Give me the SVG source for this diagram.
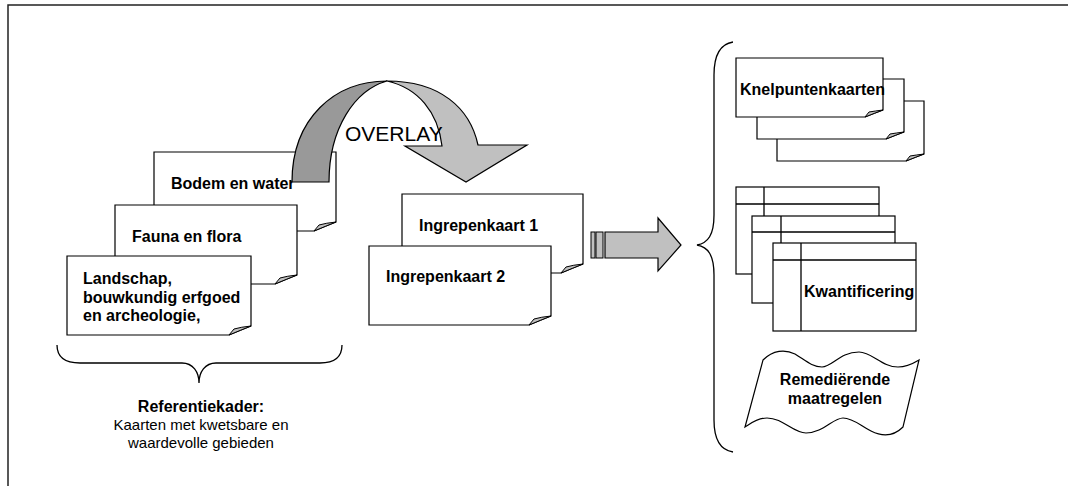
<svg xmlns="http://www.w3.org/2000/svg" width="1068" height="486" viewBox="0 0 1068 486">
<style>
.pg{fill:#fff;stroke:#000;stroke-width:1.2}
.fold{fill:#c0c0c0;stroke:#000;stroke-width:1}
.ln{fill:none;stroke:#000;stroke-width:1.3}
.b{font-family:"Liberation Sans",Arial,sans-serif;font-weight:bold;font-size:16px;fill:#000}
.r{font-family:"Liberation Sans",Arial,sans-serif;font-size:15px;fill:#000}
</style>
<rect width="1068" height="486" fill="#fff"/>
<path d="M8,486 V5 H1068" fill="none" stroke="#222" stroke-width="1.5"/>

<g id="bodem">
<path class="pg" d="M154,152 H336 V222 Q326,226 314,231 H154 Z"/>
<path class="fold" d="M314,231 L319,225 Q326,223 336,222 Q326,226 314,231 Z"/>
<text class="b" x="171" y="189">Bodem en water</text>
</g>
<g id="fauna">
<path class="pg" d="M115,205 H297 V275 Q287,279 275,284 H115 Z"/>
<path class="fold" d="M275,284 L280,278 Q287,276 297,275 Q287,279 275,284 Z"/>
<text class="b" x="132" y="242">Fauna en flora</text>
</g>
<g id="landschap">
<path class="pg" d="M67,256 H251 V326 Q241,330 229,335 H67 Z"/>
<path class="fold" d="M229,335 L234,329 Q241,327 251,326 Q241,330 229,335 Z"/>
<text class="b" x="83" y="284">Landschap,</text>
<text class="b" x="83" y="302.5">bouwkundig erfgoed</text>
<text class="b" x="83" y="321">en archeologie,</text>
</g>

<g id="overlay">
<path d="M292,182 C292,118 335,81 387,81 C355,90 329,128 329,182 Z" fill="#999" stroke="#000" stroke-width="1.2"/>
<path d="M387,81 C440,81 470,108 478,145 H527 L466,182 L405,146 H442 C438,112 418,88 387,81 Z" fill="#c0c0c0" stroke="#000" stroke-width="1.2"/>
<text x="345" y="141" font-family="Liberation Sans,Arial,sans-serif" font-size="21" fill="#000">OVERLAY</text>
</g>

<g id="ingrepen1">
<path class="pg" d="M402,194 H583 V264 Q573,268 561,273 H402 Z"/>
<path class="fold" d="M561,273 L566,267 Q573,265 583,264 Q573,268 561,273 Z"/>
<text class="b" x="419" y="231">Ingrepenkaart 1</text>
</g>
<g id="ingrepen2">
<path class="pg" d="M369,246 H551 V316 Q541,320 529,325 H369 Z"/>
<path class="fold" d="M529,325 L534,319 Q541,317 551,316 Q541,320 529,325 Z"/>
<text class="b" x="386" y="282">Ingrepenkaart 2</text>
</g>

<g id="connectors">
<rect x="591" y="232" width="4" height="26" fill="#c0c0c0" stroke="#000" stroke-width="1"/>
<rect x="596" y="232" width="7" height="26" fill="#c0c0c0" stroke="#000" stroke-width="1"/>
<path d="M605,232 H658 V218 L681,245 L658,271 V258 H605 Z" fill="#c0c0c0" stroke="#000" stroke-width="1.2"/>
<path class="ln" d="M733,42 C720,44 714,56 714,75 V215 C714,235 708,243 697,245 C708,247 714,255 714,275 V420 C714,440 720,450 733,452"/>
<path class="ln" d="M57,345 C57,356 64,363 80,363 H182 C193,363 199,372 199,383 C199,372 205,363 216,363 H320 C335,363 342,356 342,345"/>
</g>

<g id="knelpunten">
<path class="pg" d="M777,101 H924 V154 Q916,157 906,161 H777 Z"/>
<path class="fold" d="M906,161 L910,156 Q916,155 924,154 Q916,157 906,161 Z"/>
<path class="pg" d="M757,79 H904 V132 Q896,135 886,139 H757 Z"/>
<path class="fold" d="M886,139 L890,134 Q896,133 904,132 Q896,135 886,139 Z"/>
<path class="pg" d="M736,58 H883 V110 Q875,113 865,117 H736 Z"/>
<path class="fold" d="M865,117 L869,112 Q875,111 883,110 Q875,113 865,117 Z"/>
<text class="b" x="740" y="95">Knelpuntenkaarten</text>
</g>

<g id="kwantificering">
<rect class="pg" x="736" y="187" width="143" height="87"/>
<path class="ln" d="M736,204 H879 M764,187 V274"/>
<rect class="pg" x="752" y="216" width="143" height="87"/>
<path class="ln" d="M752,232 H895 M781,216 V303"/>
<rect class="pg" x="773" y="243" width="143" height="88"/>
<path class="ln" d="M773,260 H916 M801,243 V331"/>
<text class="b" x="804" y="297">Kwantificering</text>
</g>

<g id="remedierend">
<path class="pg" d="M763,360 C773,350 785,349 795,354 C805,360 812,367 822,367 C832,367 840,352 859,352 C872,352 882,367 898,367 C908,367 914,363 919,360 L903,427 C893,437 881,436 871,431 C861,426 853,418 843,418 C833,418 823,433 806,433 C793,433 783,418 767,418 C757,418 750,424 745,427 Z"/>
<text class="b" x="835" y="385" text-anchor="middle">Remediërende</text>
<text class="b" x="835" y="404" text-anchor="middle">maatregelen</text>
</g>

<g id="referentiekader">
<text class="b" x="201" y="412" text-anchor="middle">Referentiekader:</text>
<text class="r" x="201" y="430" text-anchor="middle">Kaarten met kwetsbare en</text>
<text class="r" x="201" y="448" text-anchor="middle">waardevolle gebieden</text>
</g>
</svg>
